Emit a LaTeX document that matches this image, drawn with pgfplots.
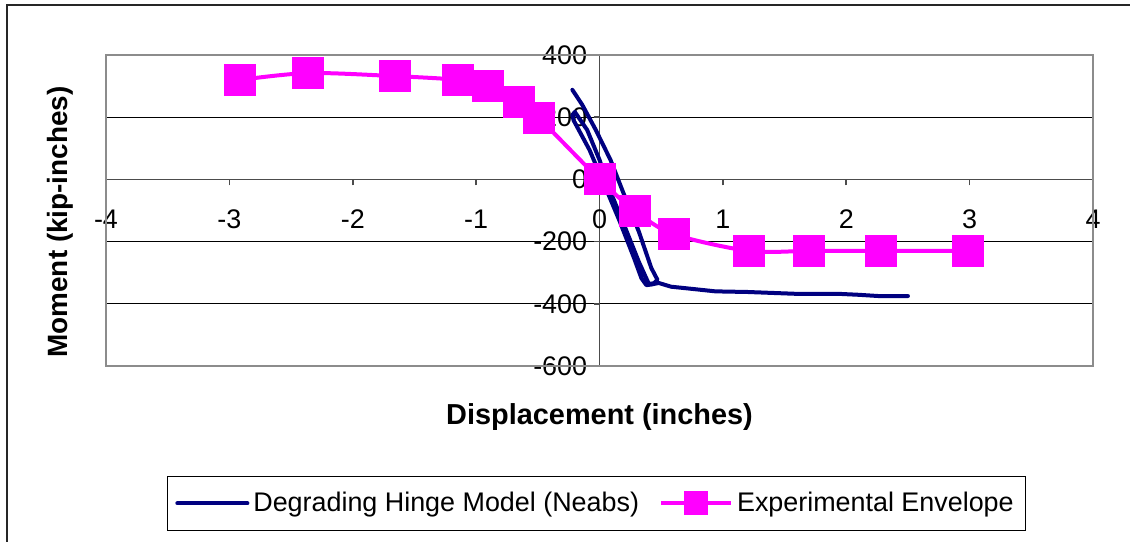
\documentclass[border=0pt]{standalone}
\usepackage{fontspec}
\setmainfont{Liberation Sans}
\usepackage{pgfplots}
\pgfplotsset{compat=1.18}
\definecolor{navyblue}{RGB}{0,0,128}
\definecolor{mag}{RGB}{255,0,255}
\begin{document}
\begin{tikzpicture}
\path[use as bounding box] (0,0) rectangle (565bp,-271bp);
\begin{axis}[
  at={(53bp,-183bp)}, anchor=south west,
  width=493.5bp, height=155.5bp, scale only axis,
  xmin=-4, xmax=4, ymin=-600, ymax=400,
  axis lines=middle,
  axis line style={-, black!70, line width=0.8bp},
  hide obscured x ticks=false, hide obscured y ticks=false,
  xtick={-4,-3,...,4}, ytick={-600,-400,...,400},
  tick align=outside, major tick length=3bp,
  tick style={black!70, line width=0.8bp},
  ymajorgrids, grid style={black, line width=0.5bp},
  tick label style={font=\fontsize{13.5}{16}\selectfont},
  /pgf/number format/assume math mode=true,
  xticklabel style={anchor=center, yshift=-17bp},
  yticklabel style={anchor=east, inner sep=0pt, xshift=-3bp},
  xlabel={Displacement (inches)}, ylabel={Moment (kip-inches)},
  label style={font=\bfseries\fontsize{14}{17}\selectfont},
  xlabel style={at={(axis description cs:0.5,-0.164)}, anchor=center, font=\bfseries\fontsize{14.5}{17}\selectfont},
  ylabel style={at={(axis description cs:-0.0466,0.463)}, anchor=center, rotate=90},
  legend columns=2,
  legend style={at={(axis description cs:0.497,-0.442)}, anchor=center,
    draw=black, line width=0.5bp, font=\fontsize{13.5}{16}\selectfont,
    inner xsep=4bp, inner ysep=6bp,
    /tikz/every even column/.append style={column sep=8bp}},
  legend image code/.code={\draw[mark repeat=2,mark phase=2,#1,mark size=5bp] plot coordinates {(0bp,0bp) (17.5bp,0bp) (35bp,0bp)};},
  clip=false,
]
\addplot[navyblue, line width=2bp, line join=round, line cap=round] coordinates {
  (-0.22,288) (-0.14,240) (-0.03,159) (0.09,62) (0.20,-50) (0.32,-169) (0.42,-285) (0.47,-323)
  (0.44,-334) (0.40,-336) (0.32,-266) (0.21,-157) (0.10,-50) (0.0,63) (-0.10,159) (-0.20,217) (-0.22,207)
  (-0.21,190) (-0.08,94) (0.04,-18) (0.16,-131) (0.28,-253) (0.34,-318) (0.38,-340) (0.42,-338)
  (0.48,-333) (0.58,-345) (0.75,-352) (0.94,-360) (1.2,-362) (1.4,-365) (1.6,-368) (1.94,-368)
  (2.1,-371) (2.26,-375) (2.5,-375)
};
\addlegendentry{Degrading Hinge Model (Neabs)}
\addplot[mag, line width=2bp, smooth, mark=square*, mark size=7bp, mark options={solid, fill=mag, draw=mag}] coordinates {
  (-2.91,320) (-2.36,342) (-1.655,332) (-1.145,320) (-0.90,300) (-0.65,249) (-0.49,197)
  (0,0) (0.29,-102) (0.60,-176) (1.21,-230) (1.70,-230) (2.28,-230) (2.99,-230)
};
\addlegendentry{Experimental Envelope}
\draw[black!45, line width=1bp] (rel axis cs:0,0) rectangle (rel axis cs:1,1);
\end{axis}
\draw[black!85, line width=0.8bp] (3.5bp,-271bp) -- (3.5bp,-2.5bp) -- (565bp,-2.5bp);
\end{tikzpicture}
\end{document}
